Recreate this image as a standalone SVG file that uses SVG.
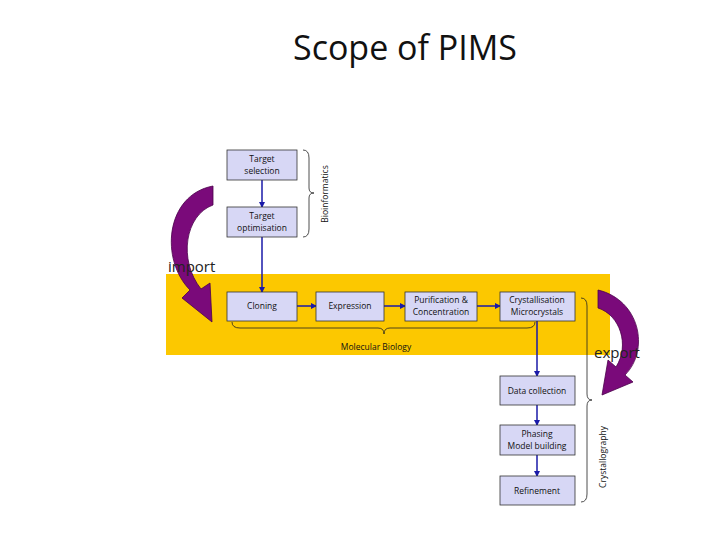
<svg xmlns="http://www.w3.org/2000/svg" width="720" height="540" viewBox="0 0 720 540">
<defs>
<style>
.b{fill:#d7d7f5;stroke:#333;stroke-width:0.8}
.t{font-family:"Open Sans","DejaVu Sans",sans-serif;font-size:8.5px;fill:#111;text-anchor:middle}
.c{stroke:#1a1aa8;stroke-width:1.5;fill:none;marker-end:url(#a)}
.br{stroke:#222;stroke-width:0.8;fill:none}
.p{fill:#7a0a7a;stroke:#4a004a;stroke-width:0.8}
.big{font-family:"Open Sans","DejaVu Sans",sans-serif;font-size:15px;fill:#222}
</style>
<marker id="a" markerWidth="6" markerHeight="6" refX="5" refY="3" orient="auto" markerUnits="userSpaceOnUse"><path d="M0,0 L6,3 L0,6z" fill="#1a1aa8"/></marker>
</defs>
<rect width="720" height="540" fill="#fff"/>
<text x="405" y="60" font-family="'Open Sans','DejaVu Sans',sans-serif" font-size="34" text-anchor="middle" fill="#111">Scope of PIMS</text>
<rect x="166" y="274" width="444" height="81" fill="#fcc800"/>
<path class="p" d="M213,186 C165,195 160,260 190,290 L182,298 L212,322 L210,283 L201,289 C178,260 185,215 213,205 Z"/>
<text class="big" x="168" y="272">import</text>
<path class="p" d="M598,290 C640,300 650,350 625,375 L633,382 L602,395 L608,360 L616,367 C630,345 620,315 598,308 Z"/>
<text class="big" x="594" y="358">export</text>
<g id="connectors">
<line class="c" x1="262" y1="180" x2="262" y2="207"/>
<line class="c" x1="262" y1="237" x2="262" y2="292"/>
<line class="c" x1="297" y1="306" x2="316" y2="306"/>
<line class="c" x1="384" y1="306" x2="405" y2="306"/>
<line class="c" x1="477" y1="306" x2="500" y2="306"/>
<line class="c" x1="537" y1="321" x2="537" y2="376"/>
<line class="c" x1="537" y1="405" x2="537" y2="425"/>
<line class="c" x1="537" y1="455" x2="537" y2="476"/>
</g>
<path class="br" d="M303,150 Q309,150 309,158 L309,188 Q309,193 314,193 Q309,193 309,198 L309,229 Q309,237 303,237"/>
<text class="t" transform="translate(328,194) rotate(-90)">Bioinformatics</text>
<path class="br" d="M232,322 Q232,328 240,328 L378,328 Q384,328 384,334 Q384,328 390,328 L527,328 Q535,328 535,322"/>
<text class="t" x="376" y="350">Molecular Biology</text>
<path class="br" d="M581,298 Q587,298 587,306 L587,394 Q587,400 592,400 Q587,400 587,406 L587,494 Q587,502 581,502"/>
<text class="t" transform="translate(606,457) rotate(-90)">Crystallography</text>
<g id="n1"><rect class="b" x="227" y="150" width="70" height="30"/><text class="t" x="262" y="162">Target</text><text class="t" x="262" y="174">selection</text></g>
<g id="n2"><rect class="b" x="227" y="207" width="70" height="30"/><text class="t" x="262" y="219">Target</text><text class="t" x="262" y="231">optimisation</text></g>
<g id="n3"><rect class="b" x="227" y="292" width="70" height="29"/><text class="t" x="262" y="309">Cloning</text></g>
<g id="n4"><rect class="b" x="316" y="292" width="68" height="29"/><text class="t" x="350" y="309">Expression</text></g>
<g id="n5"><rect class="b" x="405" y="292" width="72" height="29"/><text class="t" x="441" y="303">Purification &amp;</text><text class="t" x="441" y="315">Concentration</text></g>
<g id="n6"><rect class="b" x="500" y="292" width="75" height="29"/><text class="t" x="537" y="303">Crystallisation</text><text class="t" x="537" y="315">Microcrystals</text></g>
<g id="n7"><rect class="b" x="500" y="376" width="75" height="29"/><text class="t" x="537" y="394">Data collection</text></g>
<g id="n8"><rect class="b" x="500" y="425" width="75" height="30"/><text class="t" x="537" y="437">Phasing</text><text class="t" x="537" y="449">Model building</text></g>
<g id="n9"><rect class="b" x="500" y="476" width="75" height="29"/><text class="t" x="537" y="494">Refinement</text></g>
</svg>
